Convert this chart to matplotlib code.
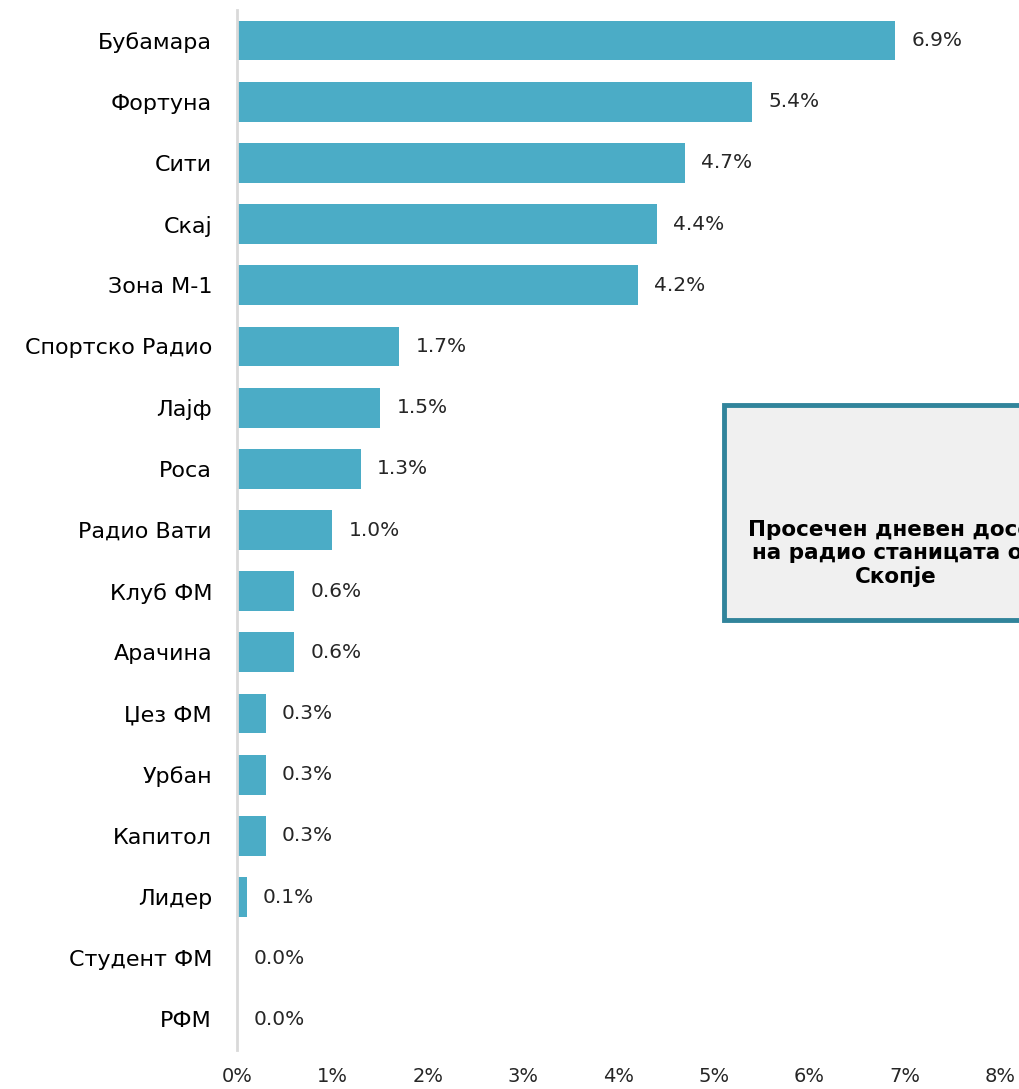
import matplotlib.pyplot as plt
from matplotlib.patches import Rectangle

plt.rcParams['font.family'] = ['DejaVu Sans']

stations = ["Бубамара", "Фортуна", "Сити", "Скај", "Зона М-1", "Спортско Радио",
            "Лајф", "Роса", "Радио Вати", "Клуб ФМ", "Арачина", "Џез ФМ",
            "Урбан", "Капитол", "Лидер", "Студент ФМ", "РФМ"]
reach = [6.9, 5.4, 4.7, 4.4, 4.2, 1.7, 1.5, 1.3, 1.0, 0.6, 0.6, 0.3, 0.3, 0.3, 0.1, 0.0, 0.0]
xticks = [0, 1, 2, 3, 4, 5, 6, 7, 8]

fig = plt.figure(figsize=(10.2, 10.89), dpi=100)
ax = fig.add_axes([0.2324, 0.0358, 0.748, 0.955])

ypos = list(range(len(stations)))
ax.barh(ypos, reach, height=0.65, color="#4BACC6")
for y, v in zip(ypos, reach):
    ax.text(v + 0.17, y, f"{v:.1f}%", va="center", ha="left", fontsize=14.5, color="#262626")

ax.set_ylim(len(stations) - 0.5, -0.5)
ax.set_xlim(0, 8)
ax.set_yticks(ypos)
ax.set_yticklabels(stations, fontsize=16, color="#000000")
ax.set_xticks(xticks)
ax.set_xticklabels([f"{t}%" for t in xticks], fontsize=14, color="#262626")
ax.tick_params(axis="both", length=0)
ax.tick_params(axis="y", pad=18)
ax.tick_params(axis="x", pad=12)
for s in ["top", "right", "bottom"]:
    ax.spines[s].set_visible(False)
ax.spines["left"].set_color("#D9D9D9")
ax.spines["left"].set_linewidth(2)

# title box, partly cut off at the right edge
box = Rectangle((0.7098, 0.4307), 0.337, 0.1974, transform=fig.transFigure,
                facecolor="#F0F0F0", edgecolor="#31849B", linewidth=3.5, clip_on=False)
fig.patches.append(box)
fig.text(0.8784, 0.492, "Просечен дневен досег\nна радио станицата од\nСкопје",
         ha="center", va="center", fontsize=15.5, fontweight="bold", linespacing=1.2)

plt.savefig("out.png", dpi=100)
